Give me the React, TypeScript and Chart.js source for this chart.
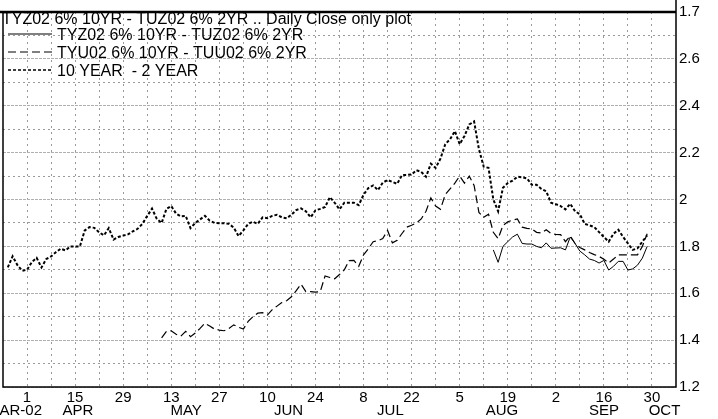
import { useEffect, useRef } from 'react';
import { Chart, registerables } from 'chart.js';

Chart.register(...registerables);

const FONT = '"Liberation Sans", Arial, Helvetica, sans-serif';

const TITLE = 'TYZ02 6% 10YR - TUZ02 6% 2YR .. Daily Close only plot';
const SERIES_LABELS = ['TYZ02 6% 10YR - TUZ02 6% 2YR', 'TYU02 6% 10YR - TUU02 6% 2YR', '10 YEAR  - 2 YEAR'];

// x = trading-day index, 0 = 1 Apr 2002
const X_MIN = -5;
const X_MAX = 135;
const xTickValues = [0, 5, 10, 15, 20, 25, 30, 35, 40, 45, 50, 55, 60, 65, 70, 75, 80, 85, 90, 95, 100, 105, 110, 115, 120, 125, 130];
const dayTickValues = [0, 10, 20, 30, 40, 50, 60, 70, 80, 90, 100, 110, 120, 130];
const dayTickLabels = ['1', '15', '29', '13', '27', '10', '24', '8', '22', '5', '19', '2', '16', '30'];
const monthLabels = ['MAR-02', 'APR', 'MAY', 'JUN', 'JUL', 'AUG', 'SEP', 'OCT'];
const monthPositions = [-2.6, 10.6, 33.1, 54.4, 75.6, 98.8, 120, 132.6];

const yGridValues = [1.2, 1.3, 1.4, 1.5, 1.6, 1.7, 1.8, 1.9, 2.0, 2.1, 2.2, 2.3, 2.4, 2.5, 2.6, 2.7, 2.8];
const yTickValues = [1.2, 1.4, 1.6, 1.8, 2.0, 2.2, 2.4, 2.6, 2.8];
const yTickLabels = ['1.2', '1.4', '1.6', '1.8', '2', '2.2', '2.4', '2.6', '1.7'];

// 10 YEAR - 2 YEAR (starts at index -4)
const spreadStart = -4;
const spreadValues = [
  1.71, 1.758, 1.72, 1.696, 1.70, 1.733, 1.751, 1.71, 1.746, 1.757,
  1.775, 1.79, 1.783, 1.80, 1.80, 1.80, 1.868, 1.882, 1.879, 1.86,
  1.847, 1.878, 1.829, 1.84, 1.846, 1.851, 1.864, 1.875, 1.896, 1.93,
  1.961, 1.917, 1.90, 1.96, 1.972, 1.94, 1.928, 1.93, 1.878, 1.90,
  1.915, 1.93, 1.91, 1.90, 1.899, 1.899, 1.896, 1.88, 1.844, 1.868,
  1.896, 1.905, 1.896, 1.924, 1.92, 1.93, 1.935, 1.924, 1.92, 1.935,
  1.955, 1.962, 1.95, 1.924, 1.954, 1.96, 1.968, 2.01, 1.986, 1.958,
  1.986, 1.986, 1.986, 1.976, 2.02, 2.049, 2.06, 2.04, 2.072, 2.083,
  2.075, 2.067, 2.104, 2.105, 2.107, 2.125, 2.118, 2.097, 2.153, 2.135,
  2.174, 2.236, 2.257, 2.292, 2.236, 2.271, 2.32, 2.333, 2.215, 2.14,
  2.135, 2.0, 1.95, 2.05, 2.07, 2.08, 2.097, 2.095, 2.09, 2.063,
  2.063, 2.045, 2.035, 1.986, 1.98, 1.972, 1.958, 1.982, 1.95, 1.9375,
  1.896, 1.89, 1.882, 1.861, 1.84, 1.82, 1.854, 1.871, 1.84, 1.8125,
  1.785, 1.792, 1.82, 1.847,
];

// TYU02 - TUU02 (starts at index 28)
const tyuStart = 28;
const tyuValues = [
  1.41, 1.4375, 1.44, 1.425, 1.417, 1.4375, 1.415, 1.43, 1.45, 1.472,
  1.46, 1.447, 1.443, 1.44, 1.45, 1.465, 1.455, 1.447, 1.48, 1.50,
  1.515, 1.517, 1.507, 1.53, 1.545, 1.56, 1.568, 1.585, 1.611, 1.639,
  1.607, 1.607, 1.605, 1.607, 1.674, 1.667, 1.662, 1.68, 1.70, 1.739,
  1.74, 1.715, 1.764, 1.79, 1.82, 1.824, 1.833, 1.868, 1.815, 1.826,
  1.855, 1.882, 1.89, 1.90, 1.917, 1.95, 2.007, 1.972, 1.958, 2.021,
  2.045, 2.07, 2.1, 2.07, 2.1, 2.06, 1.945, 1.924, 1.9375, 1.86,
  1.833, 1.889, 1.905, 1.912, 1.917, 1.882, 1.877, 1.875, 1.86, 1.857,
  1.871, 1.855, 1.851, 1.85, 1.82, 1.845, 1.8125, 1.795, 1.785, 1.774,
  1.765, 1.757, 1.745, 1.729, 1.746, 1.764, 1.764, 1.764, 1.764, 1.764,
  1.80, 1.854,
];

// TYZ02 - TUZ02 (starts at index 97)
const tyzStart = 97;
const tyzValues = [
  1.785, 1.732, 1.80, 1.82, 1.84, 1.852, 1.8125, 1.81, 1.81, 1.80,
  1.794, 1.815, 1.792, 1.793, 1.794, 1.785, 1.84, 1.8125, 1.78, 1.764,
  1.746, 1.74, 1.729, 1.74, 1.699, 1.715, 1.736, 1.736, 1.699, 1.704,
  1.72, 1.75, 1.80,
];

const toPoints = (start: number, vals: number[]) => vals.map((v, i) => ({ x: start + i, y: v }));

const LINE_STYLES = [
  { dash: [] as number[], width: 1 },
  { dash: [8, 4], width: 1.2 },
  { dash: [3, 2], width: 2 },
];

const isMajorY = (v: number) => yTickValues.some((t) => Math.abs(t - v) < 1e-6);

const decorPlugin = {
  id: 'decor',
  afterDraw(chart: any) {
    const { ctx, chartArea: a, scales } = chart;
    const xs = scales.x;
    ctx.save();
    // frame
    ctx.setLineDash([]);
    ctx.strokeStyle = '#000';
    ctx.lineWidth = 1.5;
    ctx.beginPath();
    ctx.moveTo(a.left, a.top);
    ctx.lineTo(a.left, a.bottom);
    ctx.lineTo(a.right, a.bottom);
    ctx.lineTo(a.right, 0);
    ctx.stroke();
    ctx.lineWidth = 2.5;
    ctx.beginPath();
    ctx.moveTo(0, a.top);
    ctx.lineTo(a.right, a.top);
    ctx.stroke();

    // month labels
    ctx.fillStyle = '#000';
    ctx.font = `15px ${FONT}`;
    ctx.textAlign = 'center';
    ctx.textBaseline = 'middle';
    monthLabels.forEach((m, i) => {
      ctx.fillText(m, xs.getPixelForValue(monthPositions[i]), 411);
    });

    // title + legend
    ctx.font = `16px ${FONT}`;
    ctx.textAlign = 'left';
    ctx.textBaseline = 'alphabetic';
    ctx.fillText(TITLE, 2, 24);
    const baselines = [40, 58, 76];
    SERIES_LABELS.forEach((lab, i) => {
      const ds = chart.data.datasets[i];
      const y = baselines[i] - 6;
      ctx.save();
      ctx.strokeStyle = ds.borderColor;
      ctx.lineWidth = i === 2 ? 1.6 : 1;
      ctx.setLineDash(ds.borderDash || []);
      ctx.beginPath();
      ctx.moveTo(8, y);
      ctx.lineTo(52, y);
      ctx.stroke();
      ctx.restore();
      ctx.fillText(lab, 57, baselines[i]);
    });
    ctx.restore();
  },
};

export default function App() {
  const ref = useRef<HTMLCanvasElement>(null);
  useEffect(() => {
    document.body.style.margin = '0';
    const canvas = ref.current!;
    const chart = new Chart(canvas, {
      type: 'line',
      data: {
        datasets: [
          {
            label: SERIES_LABELS[0],
            data: toPoints(tyzStart, tyzValues),
            borderColor: '#000',
            borderWidth: LINE_STYLES[0].width,
            borderDash: LINE_STYLES[0].dash,
            pointRadius: 0,
            tension: 0,
          },
          {
            label: SERIES_LABELS[1],
            data: toPoints(tyuStart, tyuValues),
            borderColor: '#000',
            borderWidth: LINE_STYLES[1].width,
            borderDash: LINE_STYLES[1].dash,
            pointRadius: 0,
            tension: 0,
          },
          {
            label: SERIES_LABELS[2],
            data: toPoints(spreadStart, spreadValues),
            borderColor: '#000',
            borderWidth: LINE_STYLES[2].width,
            borderDash: LINE_STYLES[2].dash,
            pointRadius: 0,
            tension: 0,
          },
        ],
      },
      options: {
        animation: false,
        responsive: false,
        maintainAspectRatio: false,
        devicePixelRatio: 1,
        layout: { padding: { left: 3, top: 3, right: 0, bottom: 0 } },
        plugins: { legend: { display: false }, tooltip: { enabled: false }, title: { display: false } },
        scales: {
          x: {
            type: 'linear',
            position: 'bottom',
            min: X_MIN,
            max: X_MAX,
            grid: { display: true, drawTicks: false, color: '#9a9a9a', lineWidth: 1 },
            border: { display: false, dash: [2, 4] },
            afterBuildTicks: (s: any) => {
              s.ticks = xTickValues.map((v) => ({ value: v }));
            },
            afterFit: (s: any) => {
              s.height = 32;
            },
            ticks: {
              autoSkip: false,
              maxRotation: 0,
              padding: 2,
              color: '#000',
              font: { family: FONT, size: 15 },
              callback: (v: any) => {
                const i = dayTickValues.indexOf(Number(v));
                return i >= 0 ? dayTickLabels[i] : '';
              },
            },
          },
          y: {
            type: 'linear',
            position: 'right',
            min: 1.2,
            max: 2.8,
            grid: {
              display: true,
              drawTicks: false,
              lineWidth: 1,
              color: (c: any) => (isMajorY(c.tick?.value ?? 0) ? '#b0b0b0' : '#9a9a9a'),
            },
            border: {
              display: false,
              dash: (c: any) => (isMajorY(c.tick?.value ?? 0) ? [3, 1] : [2, 3]),
            },
            afterBuildTicks: (s: any) => {
              s.ticks = yGridValues.map((v) => ({ value: v }));
            },
            afterFit: (s: any) => {
              s.width = 42;
            },
            ticks: {
              autoSkip: false,
              padding: 3,
              color: '#000',
              font: { family: FONT, size: 15 },
              callback: (v: any) => {
                const i = yTickValues.findIndex((t) => Math.abs(t - Number(v)) < 1e-6);
                return i >= 0 ? yTickLabels[i] : '';
              },
            },
          },
        },
      },
      plugins: [decorPlugin],
    });
    return () => chart.destroy();
  }, []);
  return (
    <div style={{ width: 718, height: 419 }}>
      <canvas ref={ref} width={718} height={419} style={{ display: 'block', width: 718, height: 419 }} />
    </div>
  );
}
